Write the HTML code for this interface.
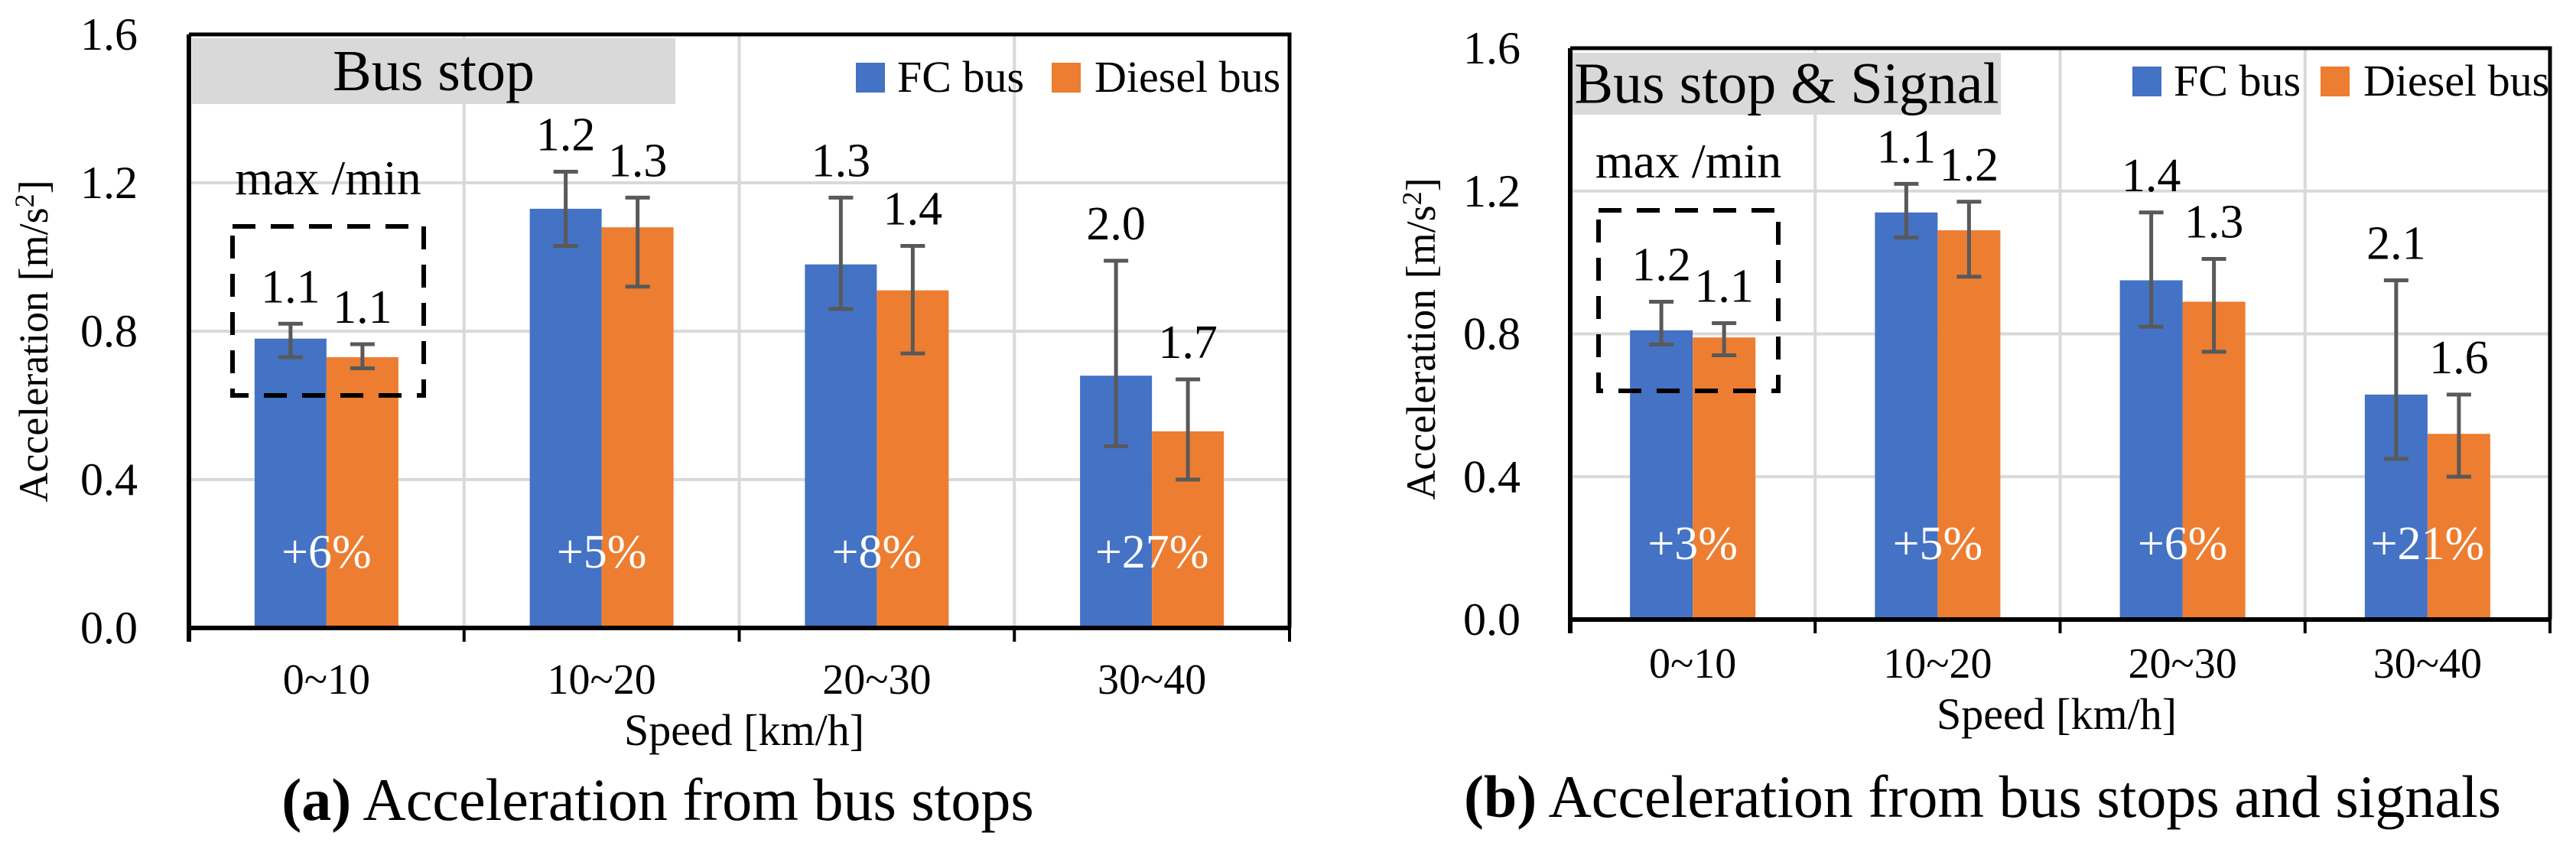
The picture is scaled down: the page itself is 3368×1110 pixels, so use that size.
<!DOCTYPE html>
<html><head><meta charset="utf-8"><style>
html,body{margin:0;padding:0;background:#fff}
svg{display:block}
svg text{font-family:"Liberation Serif","Times New Roman",serif;fill:#000}
</style></head><body>
<svg id="fig" width="3368" height="1110" viewBox="0 0 3368 1110" font-family="Liberation Serif, serif" xmlns="http://www.w3.org/2000/svg"></svg>
<script>
const categories = ["0~10","10~20","20~30","30~40"];
const yTicks = [0.0,0.4,0.8,1.2,1.6];
const yTickLabels = ["0.0","0.4","0.8","1.2","1.6"];
// panel (a)
const fcA = [0.78,1.13,0.98,0.68];
const fcA_hi = [0.82,1.23,1.16,0.99];
const fcA_lo = [0.73,1.03,0.86,0.49];
const dA = [0.73,1.08,0.91,0.53];
const dA_hi = [0.765,1.16,1.03,0.67];
const dA_lo = [0.70,0.92,0.74,0.40];
const fcA_labels = ["1.1","1.2","1.3","2.0"];
const dA_labels = ["1.1","1.3","1.4","1.7"];
const pctA = ["+6%","+5%","+8%","+27%"];
// panel (b)
const fcB = [0.81,1.14,0.95,0.63];
const fcB_hi = [0.89,1.22,1.14,0.95];
const fcB_lo = [0.77,1.07,0.82,0.45];
const dB = [0.79,1.09,0.89,0.52];
const dB_hi = [0.83,1.17,1.01,0.63];
const dB_lo = [0.74,0.96,0.75,0.40];
const fcB_labels = ["1.2","1.1","1.4","2.1"];
const dB_labels = ["1.1","1.2","1.3","1.6"];
const pctB = ["+3%","+5%","+6%","+21%"];

const NS="http://www.w3.org/2000/svg";
const svg=document.getElementById('fig');
function mk(tag,attrs,parent,txt){const e=document.createElementNS(NS,tag);for(const k in attrs)e.setAttribute(k,attrs[k]);if(tag==='text')e.setAttribute('font-family','Liberation Serif, serif');if(txt!==undefined)e.textContent=txt;(parent||svg).appendChild(e);return e;}

function panel(p){
  const g=mk('g',{});
  
  
  const y=v=>p.y0-(v/1.6)*(p.y0-p.y1);
  const cw=(p.x1-p.x0)/categories.length;
  const cx=i=>p.x0+cw*(i+0.5);
  yTicks.forEach((t,i)=>{
    if(t>0&&t<1.6){const l=mk('line',{x1:p.x0,x2:p.x1,y1:y(t),y2:y(t),stroke:'#d9d9d9','stroke-width':4},g);
    }
    const tl=mk('text',{x:p.tickX,y:y(t)+20,'font-size':60,'text-anchor':'end'},g,yTickLabels[i]);
    
  });
  for(let i=1;i<categories.length;i++){
    const vx=p.x0+cw*i;
    const l=mk('line',{x1:vx,x2:vx,y1:p.y1,y2:p.y0,stroke:'#d9d9d9','stroke-width':4},g);
    
  }
  const tb=mk('rect',{x:p.boxX,y:p.boxY,width:p.boxW,height:p.boxH,fill:'#d9d9d9'},g);
  
  const tt=mk('text',{x:p.boxX+p.boxW/2,y:p.boxY+p.boxH/2+25,'font-size':76,'text-anchor':'middle'},g,p.tag);
  
  const l1=mk('rect',{x:p.legX,y:p.legY,width:38,height:39,fill:'#4472c4'},g);
  
  const lt1=mk('text',{x:p.legX+54,y:p.legY+38,'font-size':58},g,'FC bus');
  
  const l2=mk('rect',{x:p.legX2,y:p.legY,width:38,height:39,fill:'#ed7d31'},g);
  
  const lt2=mk('text',{x:p.legX2+56,y:p.legY+38,'font-size':58},g,'Diesel bus');
  
  const bw=p.bw;
  categories.forEach((c,i)=>{
    const fx=cx(i)-bw, dx=cx(i);
    const b1=mk('rect',{x:fx,y:y(p.fc[i]),width:bw,height:y(0)-y(p.fc[i]),fill:'#4472c4'},g);
    
    const b2=mk('rect',{x:dx,y:y(p.d[i]),width:bw,height:y(0)-y(p.d[i]),fill:'#ed7d31'},g);
    
    [[fx+bw/2,p.fcHi[i],p.fcLo[i],p.fcL[i],'fc'],[dx+bw/2,p.dHi[i],p.dLo[i],p.dL[i],'diesel']].forEach(([ex,hi,lo,lab,s])=>{
      const eg=mk('g',{stroke:'#595959','stroke-width':5,fill:'none'},g);
      
      mk('line',{x1:ex,x2:ex,y1:y(hi),y2:y(lo)},eg);
      mk('line',{x1:ex-16,x2:ex+16,y1:y(hi),y2:y(hi)},eg);
      mk('line',{x1:ex-16,x2:ex+16,y1:y(lo),y2:y(lo)},eg);
      const vt=mk('text',{x:ex,y:y(hi)-28,'font-size':62,'text-anchor':'middle'},g,lab);
      
    });
    const pt=mk('text',{x:cx(i),y:p.pctY,'font-size':62,'text-anchor':'middle',style:'fill:#fff'},g,p.pct[i]);
    
    const xt=mk('text',{x:cx(i),y:p.xLabY,'font-size':56,'text-anchor':'middle'},g,c);
    
  });
  const fr=mk('path',{d:`M${p.x0},${p.y1} H${p.x1} V${p.y0}`,stroke:'#000','stroke-width':5,fill:'none'},g);
  
  const ax=mk('path',{d:`M${p.x0},${p.y1} V${p.y0+18} M${p.x0},${p.y0} H${p.x1}`,stroke:'#000','stroke-width':6,fill:'none'},g);
  
  for(let i=1;i<=categories.length;i++){
    const tx=p.x0+cw*i;
    const t=mk('line',{x1:tx,x2:tx,y1:p.y0,y2:p.y0+18,stroke:'#000','stroke-width':4},g);
    
  }
  const db=mk('rect',{x:p.dbX,y:p.dbY,width:p.dbW,height:p.dbH,fill:'none',stroke:'#000','stroke-width':6,'stroke-dasharray':'30 20'},g);
  
  const mm=mk('text',{x:p.dbX+p.dbW/2,y:p.mmY,'font-size':64,'text-anchor':'middle'},g,'max /min');
  
  const yt=mk('text',{x:0,y:0,'font-size':54,'text-anchor':'middle',transform:`translate(${p.ytX},${p.ytY}) rotate(-90)`},g);
  
  yt.appendChild(document.createTextNode('Acceleration [m/s'));
  mk('tspan',{dy:-18,'font-size':36},yt,'2');
  mk('tspan',{dy:18},yt,']');
  const xtt=mk('text',{x:p.xtX,y:p.xtY,'font-size':58,'text-anchor':'middle'},g,'Speed [km/h]');
  
  const cap=mk('text',{x:p.capX,y:p.capY,'font-size':78,'text-anchor':'middle'},g);
  
  mk('tspan',{'font-weight':'bold'},cap,p.capB);
  cap.appendChild(document.createTextNode(' '+p.cap));
}

panel({name:'panel-a',x0:247,x1:1686,y0:821,y1:45,tickX:180,boxX:251,boxY:50,boxW:632,boxH:86,tag:'Bus stop',
  legX:1119,legX2:1375,legY:82,bw:94,fc:fcA,fcHi:fcA_hi,fcLo:fcA_lo,d:dA,dHi:dA_hi,dLo:dA_lo,fcL:fcA_labels,dL:dA_labels,
  pct:pctA,pctY:742,xLabY:907,dbX:304,dbY:296,dbW:250,dbH:221,mmY:254,ytX:62,ytY:446,xtX:973,xtY:974,
  capX:860,capY:1072,capB:'(a)',cap:'Acceleration from bus stops'});
panel({name:'panel-b',x0:2053,x1:3334,y0:810,y1:63,tickX:1988,boxX:2056,boxY:69,boxW:560,boxH:81,tag:'Bus stop & Signal',
  legX:2788,legX2:3034,legY:87,bw:82,fc:fcB,fcHi:fcB_hi,fcLo:fcB_lo,d:dB,dHi:dB_hi,dLo:dB_lo,fcL:fcB_labels,dL:dB_labels,
  pct:pctB,pctY:731,xLabY:886,dbX:2090,dbY:275,dbW:235,dbH:236,mmY:232,ytX:1876,ytY:443,xtX:2689,xtY:953,
  capX:2592,capY:1068,capB:'(b)',cap:'Acceleration from bus stops and signals'});
</script>
</body></html>
